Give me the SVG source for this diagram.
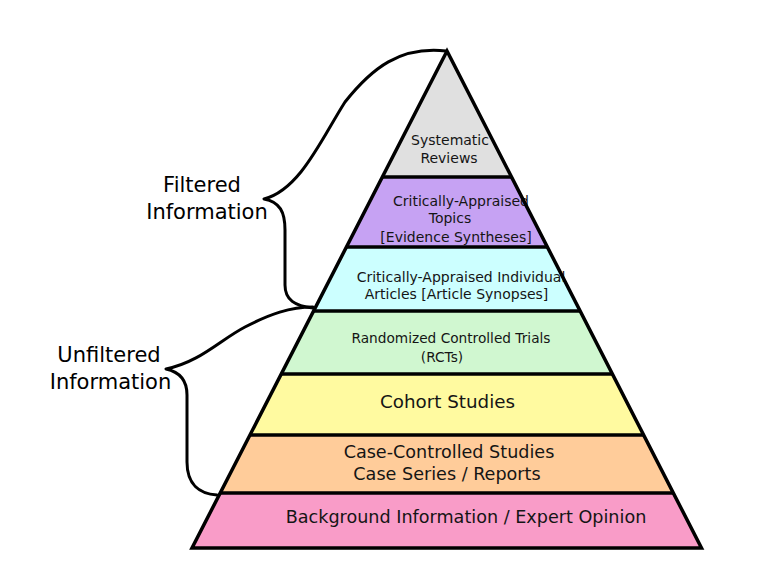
<svg xmlns="http://www.w3.org/2000/svg" width="780" height="568" viewBox="0 0 780 568">
<style>
.band{stroke:none}
.edge{fill:none;stroke:#000;stroke-width:3.5;stroke-linejoin:miter}
.sep{stroke:#000;stroke-width:3.5}
.brace{fill:none;stroke:#000;stroke-width:3;stroke-linecap:round;stroke-linejoin:round}
text{font-family:"DejaVu Sans","Liberation Sans",sans-serif;fill:#151515;text-anchor:middle}
.s{font-size:14px}
.r{font-size:13.7px}
.m{font-size:17.6px}
.big{font-size:21px;fill:#000}
</style>
<rect width="780" height="568" fill="#fff"/>
<g id="systematic-reviews">
<polygon class="band" fill="#e0e0e0" points="447,51 511.6,177 382.4,177"/>
<text class="s" x="450" y="145">Systematic</text>
<text class="s" x="449" y="163">Reviews</text>
</g>
<g id="critically-appraised-topics">
<polygon class="band" fill="#c6a2f3" points="382.4,177 511.6,177 547.6,247 346.4,247"/>
<text class="s" x="461" y="206">Critically-Appraised</text>
<text class="s" x="450" y="223">Topics</text>
<text class="s" x="456" y="242">[Evidence Syntheses]</text>
</g>
<g id="critically-appraised-articles">
<polygon class="band" fill="#ccffff" points="346.4,247 547.6,247 580.4,311 313.6,311"/>
<text class="s" x="461" y="282">Critically-Appraised Individual</text>
<text class="s" x="456.5" y="299">Articles [Article Synopses]</text>
</g>
<g id="rcts">
<polygon class="band" fill="#d0f7d0" points="313.6,311 580.4,311 612.7,374 281.3,374"/>
<text class="r" x="451" y="343">Randomized Controlled Trials</text>
<text class="r" x="442" y="362">(RCTs)</text>
</g>
<g id="cohort-studies">
<polygon class="band" fill="#fffaa0" points="281.3,374 612.7,374 644,435 250,435"/>
<text class="m" x="447.5" y="408" style="font-size:18.3px">Cohort Studies</text>
</g>
<g id="case-controlled">
<polygon class="band" fill="#ffcc9a" points="250,435 644,435 673.8,493 220.2,493"/>
<text class="m" x="449" y="458">Case-Controlled Studies</text>
<text class="m" x="447" y="480">Case Series / Reports</text>
</g>
<g id="background">
<polygon class="band" fill="#f99cc8" points="220.2,493 673.8,493 701.5,548 192,548"/>
<text class="m" x="466" y="523">Background Information / Expert Opinion</text>
</g>
<g id="pyramid-outline">
<polygon class="edge" points="447,51 701.5,548 192,548"/>
<line class="sep" x1="382.4" y1="177" x2="511.6" y2="177"/>
<line class="sep" x1="346.4" y1="247" x2="547.6" y2="247"/>
<line class="sep" x1="313.6" y1="311" x2="580.4" y2="311"/>
<line class="sep" x1="281.3" y1="374" x2="612.7" y2="374"/>
<line class="sep" x1="250" y1="435" x2="644" y2="435"/>
<line class="sep" x1="220.2" y1="493" x2="673.8" y2="493"/>
</g>
<g id="connectors">
<path class="brace" d="M446,51 C400,46 372,68 345,102 C322,138 300,190 264,199 C280,202 285,212 285,230 L285,285 C285,300 295,306 313,308"/>
<path class="brace" d="M313,307 C290,307 270,314 245,327 C220,340 200,362 166,369 C180,372 187,380 187,395 L187,462 C187,485 200,494 217,495"/>
</g>
<g id="filtered-label">
<text class="big" x="202" y="192">Filtered</text>
<text class="big" x="207" y="219">Information</text>
</g>
<g id="unfiltered-label">
<text class="big" x="109" y="362">Unfiltered</text>
<text class="big" x="110.5" y="389">Information</text>
</g>
</svg>
